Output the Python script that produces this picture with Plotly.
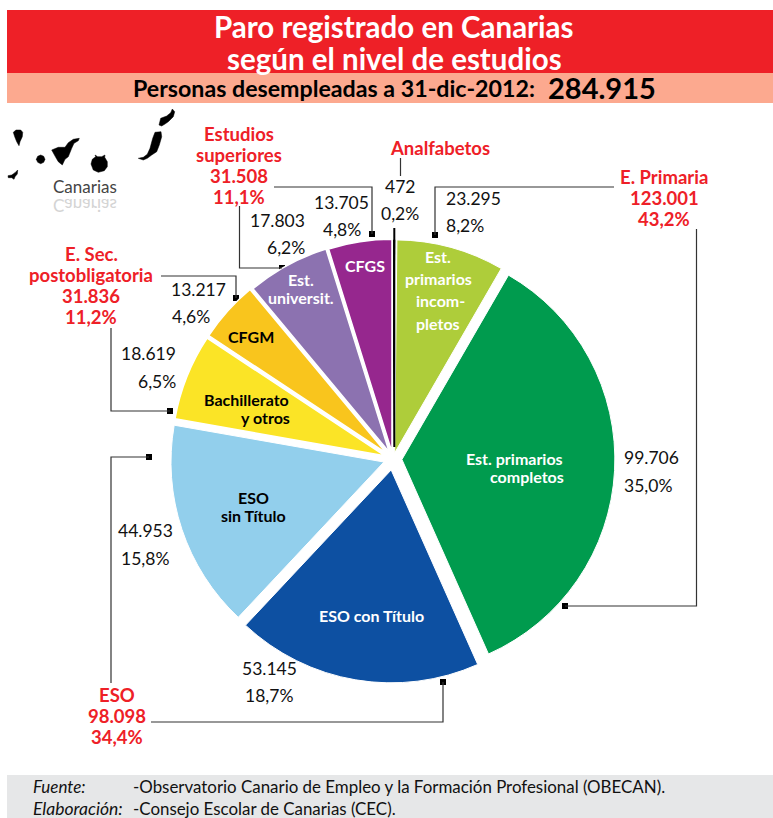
import plotly.graph_objects as go

# ---------- data ----------
categories = ["Analfabetos", "Est. primarios incompletos", "Est. primarios completos",
              "ESO con Título", "ESO sin Título", "Bachillerato y otros", "CFGM",
              "Est. universit.", "CFGS"]
values = [472, 23295, 99706, 53145, 44953, 18619, 13217, 17803, 13705]
colors = ["#000000", "#AECD3A", "#009B4E", "#0D50A2", "#92CFEC", "#FBE426", "#F9C51D", "#8C72B0", "#96278E"]
pulls = [0.03, 0.03, 0.042, 0.052, 0.045, 0.042, 0.042, 0.036, 0.032]
line_widths = [0, 1, 1, 1, 1, 1.5, 1.5, 1.5, 1.5]
total = 284915
groups = {"Analfabetos": [472], "E. Primaria": [23295, 99706], "ESO": [53145, 44953],
          "E. Sec. postobligatoria": [18619, 13217], "Estudios superiores": [17803, 13705]}

def num(v):
    return f"{v:,}".replace(",", ".")
def pct(v):
    return f"{100 * v / total:.1f}".replace(".", ",") + "%"

W, H = 773, 818
FONT = "Lato"
RED = "#EE2027"
ann = []
def T(x, y, text, size=17, color="#111111", bold=False, italic=False, anchor="center", family=FONT):
    if bold:
        text = f"<b>{text}</b>"
    if italic:
        text = f"<i>{text}</i>"
    ann.append(dict(x=x, y=y, xref="x", yref="y", text=text, showarrow=False, xanchor=anchor, yanchor="middle",
                    font=dict(family=family, size=size, color=color), borderpad=0, borderwidth=0))

shapes = []
def rect(x0, y0, x1, y1, c):
    shapes.append(dict(type="rect", xref="x", yref="y", x0=x0, y0=y0, x1=x1, y1=y1,
                       fillcolor=c, line=dict(width=0), layer="below"))
def poly(pts, color="#333333", width=1.2):
    path = "M" + " L".join(f"{a},{b}" for a, b in pts)
    shapes.append(dict(type="path", xref="x", yref="y", path=path, line=dict(color=color, width=width)))
def blob(pts):
    path = "M" + " L".join(f"{a / 3:.1f},{100 + b / 3:.1f}" for a, b in pts) + " Z"
    shapes.append(dict(type="path", xref="x", yref="y", path=path, fillcolor="#000000", line=dict(color="#000000", width=0.5)))

# bands
rect(7, 10, 773, 73, "#EE2027")
rect(7, 73, 773, 103, "#FCA98F")
rect(7, 775, 773, 818, "#E6E7E8")

T(394, 26, "Paro registrado en Canarias", 29.5, "#FFFFFF", True)
T(394, 58, "según el nivel de estudios", 29.5, "#FFFFFF", True)
T(334, 88, "Personas desempleadas a 31-dic-2012:", 23.2, "#000000", True)
T(602, 87, num(total), 29, "#000000", True)

# footer
T(33, 786, "Fuente:", 17, "#111111", italic=True, anchor="left")
T(133, 786, "-Observatorio Canario de Empleo y la Formación Profesional (OBECAN).", 16.9, anchor="left")
T(33, 808, "Elaboración:", 17.5, "#111111", italic=True, anchor="left")
T(133, 808, "-Consejo Escolar de Canarias (CEC).", 16.9, anchor="left")

# map of the islands
blob([(40,97),(48,90),(62,90),(68,97),(67,110),(60,125),(57,137),(50,125),(44,110)])
blob([(109,178),(113,169),(122,165),(131,169),(135,178),(131,187),(122,191),(113,187)])
blob([(155,150),(175,142),(195,142),(205,128),(220,118),(238,115),(235,122),(222,130),(215,145),(205,170),(195,178),(187,195),(175,185),(167,172)])
blob([(24,227),(35,225),(45,218),(53,210),(52,222),(45,230),(42,238),(35,233),(25,233)])
blob([(273,192),(277,178),(287,170),(285,165),(293,170),(305,170),(315,165),(314,172),(322,185),(322,200),(313,212),(295,217),(280,210)])
blob([(415,175),(430,172),(442,163),(450,145),(458,115),(465,97),(483,95),(485,110),(478,135),(470,155),(455,165),(442,175),(430,180)])
blob([(477,75),(482,55),(500,48),(512,38),(517,27),(524,35),(520,50),(505,65),(495,72),(485,78)])
T(85, 186, "Canarias", 17, "#444444")
T(85, 205, "Canarias", 17, "#D4D4D4")

# group labels (red)
def red(x, ys, name_lines, key):
    vals = groups[key]
    lines = name_lines + [num(sum(vals)), pct(sum(vals))]
    for y, t in zip(ys, lines):
        T(x, y, t, 18.5, RED, True)
red(239, [133.5, 154.5, 175.5, 196.5], ["Estudios", "superiores"], "Estudios superiores")
red(91, [253.5, 274.5, 295.5, 316.5], ["E. Sec.", "postobligatoria"], "E. Sec. postobligatoria")
red(664, [177, 198, 219], ["E. Primaria"], "E. Primaria")
red(117, [695, 716, 737], ["ESO"], "ESO")
T(440, 148, "Analfabetos", 18.5, RED, True)

# slice value labels
def val(i, x1, y1, x2, y2, anchor="center"):
    T(x1, y1, num(values[i]), 17.5, "#111111", anchor=anchor)
    T(x2, y2, pct(values[i]), 17.5, "#111111", anchor=anchor)
val(0, 400, 186, 400, 213)
val(1, 446, 198, 446, 225, "left")
val(2, 651, 457, 648, 485)
val(3, 269, 668, 269, 695)
val(4, 145, 530, 145, 558)
val(5, 176, 353, 176, 381, "right")
val(6, 226, 289, 210, 316, "right")
val(7, 305, 220, 305, 247, "right")
val(8, 369, 202, 361, 229, "right")

# labels inside the slices
for x, y, t, c in [
    (514, 458.5, "Est. primarios", "#FFFFFF"), (527, 476.5, "completos", "#FFFFFF"),
    (365, 265, "CFGS", "#FFFFFF"), (301, 279.5, "Est.", "#FFFFFF"), (301, 297.5, "universit.", "#FFFFFF"),
    (251, 336, "CFGM", "#000000"), (246, 399.5, "Bachillerato", "#000000"), (265, 417.5, "y otros", "#000000"),
    (253, 497.5, "ESO", "#000000"), (253, 515.5, "sin Título", "#000000"), (371, 615, "ESO con Título", "#FFFFFF"),
    (438, 256, "Est.", "#FFFFFF"), (438, 278, "primarios", "#FFFFFF"), (440, 300, "incom-", "#FFFFFF"),
    (438, 323, "pletos", "#FFFFFF")]:
    T(x, y, t, 16, c, True)

# leader lines
poly([(400.5,158),(400.5,176)])
poly([(614,187),(435,187),(435,235)])
poly([(696.5,229),(696.5,606),(565,606)])
poly([(274,187),(372,187),(372,234)])
poly([(239.5,206),(239.5,268),(282,268)])
poly([(161,276),(236,276),(236,298)])
poly([(111,328),(111,411),(170,411)])
poly([(149,457),(111,457),(111,683)])
poly([(151,722),(443,722),(443,682)])
poly([(394.3,228),(394.3,447)], "#000000", 2)

marker_x = [435, 565, 372, 282, 236, 170, 149, 443]
marker_y = [235, 606, 234, 268, 298, 411, 457, 682]

fig = go.Figure()
fig.add_trace(go.Scatter(x=marker_x, y=marker_y, mode="markers", hoverinfo="skip",
                         marker=dict(symbol="square", size=6, color="#000000"), showlegend=False))
fig.add_trace(go.Pie(labels=categories, values=values, sort=False, direction="clockwise", rotation=0,
                     pull=pulls, textinfo="none", hoverinfo="skip", showlegend=False,
                     marker=dict(colors=colors, line=dict(color="#FFFFFF", width=line_widths)),
                     domain=dict(x=[169 / W, 617 / W], y=[1 - 683 / H, 1 - 235 / H])))
fig.update_layout(width=W, height=H, margin=dict(l=0, r=0, t=0, b=0, pad=0),
                  paper_bgcolor="#FFFFFF", plot_bgcolor="rgba(0,0,0,0)", showlegend=False,
                  xaxis=dict(range=[0, W], visible=False, fixedrange=True),
                  yaxis=dict(range=[H, 0], visible=False, fixedrange=True),
                  shapes=shapes, annotations=ann, font=dict(family=FONT))
post = """document.body.style.margin='0';document.documentElement.style.overflow='hidden';
var c=[...document.querySelectorAll('.annotation-text')].filter(function(e){return e.textContent==='Canarias';});
if(c[1]){c[1].style.transformBox='fill-box';c[1].style.transformOrigin='center';c[1].style.transform='scaleY(-1)';}"""
fig.write_html("out.html", config=dict(displayModeBar=False), post_script=post)
